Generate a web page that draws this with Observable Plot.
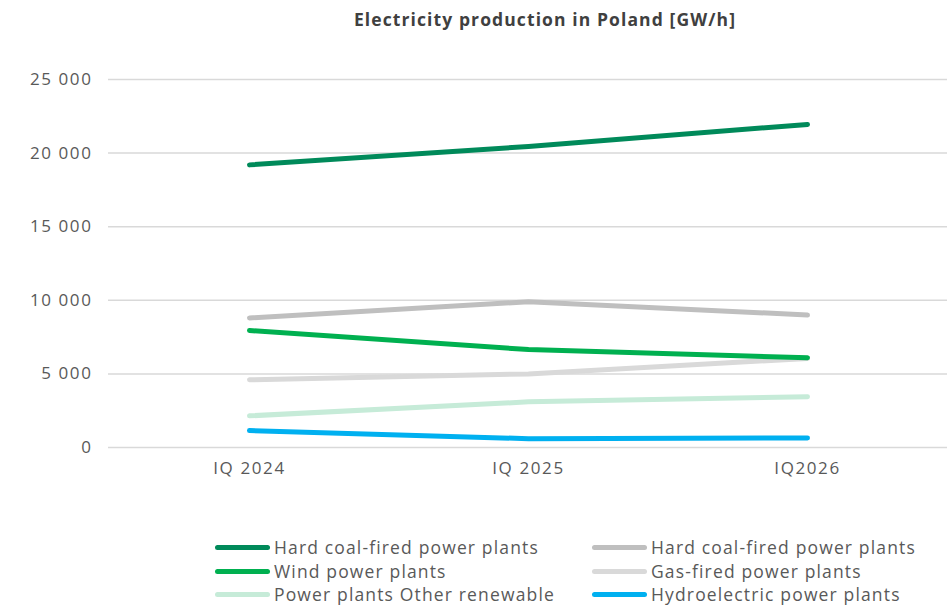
<!DOCTYPE html>
<html>
<head>
<meta charset="utf-8">
<script src="https://cdn.jsdelivr.net/npm/d3@7"></script>
<script src="https://cdn.jsdelivr.net/npm/@observablehq/plot@0.6"></script>
<style>
  html, body { margin: 0; padding: 0; background: #fff; }
  body { width: 947px; height: 607px; position: relative; overflow: hidden; font-family: "Open Sans", sans-serif; }
  #title { position: absolute; top: 7px; left: 0; width: 1090px; text-align: center; font-weight: bold; font-size: 17.5px; letter-spacing: 1.1px; color: #404040; line-height: 24px; }
  #chart { position: absolute; top: 0; left: 0; }
  .leg { position: absolute; display: flex; align-items: center; font-size: 17.5px; letter-spacing: 1.15px; color: #595959; white-space: nowrap; height: 16px; line-height: 16px; }
  .sw { width: 55px; height: 5px; border-radius: 3px; margin-right: 4px; }
  #chart svg text { letter-spacing: 1.6px; }
</style>
</head>
<body>
<div id="title">Electricity production in Poland [GW/h]</div>
<div id="chart"></div>
<div id="legend"></div>
<script>
const periods = ["IQ 2024", "IQ 2025", "IQ2026"];
const seriesNames = [
  "Hard coal-fired power plants",
  "Hard coal-fired power plants",
  "Wind power plants",
  "Gas-fired power plants",
  "Power plants Other renewable",
  "Hydroelectric power plants"
];
const seriesColors = ["#008a5a", "#bfbfbf", "#00b050", "#d9d9d9", "#c6ebd8", "#00b0f0"];
const hardCoalDark = [19200, 20450, 21950];
const hardCoalGrey = [8800, 9900, 9000];
const wind = [7950, 6650, 6100];
const gas = [4600, 5000, 6050];
const otherRenewable = [2150, 3100, 3450];
const hydro = [1150, 600, 650];
const yTicks = [0, 5000, 10000, 15000, 20000, 25000];

const seriesValues = [hardCoalDark, hardCoalGrey, wind, gas, otherRenewable, hydro];
const drawOrder = [4, 3, 2, 1, 5, 0];
const data = [];
for (const s of drawOrder) {
  seriesValues[s].forEach((v, i) => data.push({key: "s" + s, period: periods[i], value: v}));
}

const fmt = v => d3.format(",")(v).replace(/,/g, " ");

const plot = Plot.plot({
  width: 947,
  height: 500,
  marginLeft: 108,
  marginRight: 0,
  marginTop: 79,
  marginBottom: 53,
  style: {fontFamily: "Open Sans, sans-serif", fontSize: "17px", color: "#595959", background: "transparent"},
  x: {type: "point", domain: periods, padding: 0.5, label: null, tickSize: 0, tickPadding: 14},
  y: {domain: [0, 25000], ticks: yTicks, tickFormat: fmt, label: null, tickSize: 0, tickPadding: 16},
  color: {domain: seriesNames.map((_, i) => "s" + i), range: seriesColors},
  marks: [
    Plot.ruleY(yTicks, {stroke: "#d9d9d9", strokeWidth: 1.5, strokeOpacity: 1}),
    Plot.line(data, {x: "period", y: "value", z: "key", stroke: "key", strokeWidth: 5, strokeLinecap: "round", strokeLinejoin: "round"})
  ]
});
document.getElementById("chart").appendChild(plot);

const legend = document.getElementById("legend");
const pos = [[215, 539], [592, 539], [215, 563], [592, 563], [215, 586], [592, 586]];
seriesNames.forEach((name, i) => {
  const el = document.createElement("div");
  el.className = "leg";
  el.style.left = pos[i][0] + "px";
  el.style.top = pos[i][1] + "px";
  const sw = document.createElement("div");
  sw.className = "sw";
  sw.style.background = seriesColors[i];
  el.appendChild(sw);
  const t = document.createElement("span");
  t.textContent = name;
  el.appendChild(t);
  legend.appendChild(el);
});
</script>
</body>
</html>
